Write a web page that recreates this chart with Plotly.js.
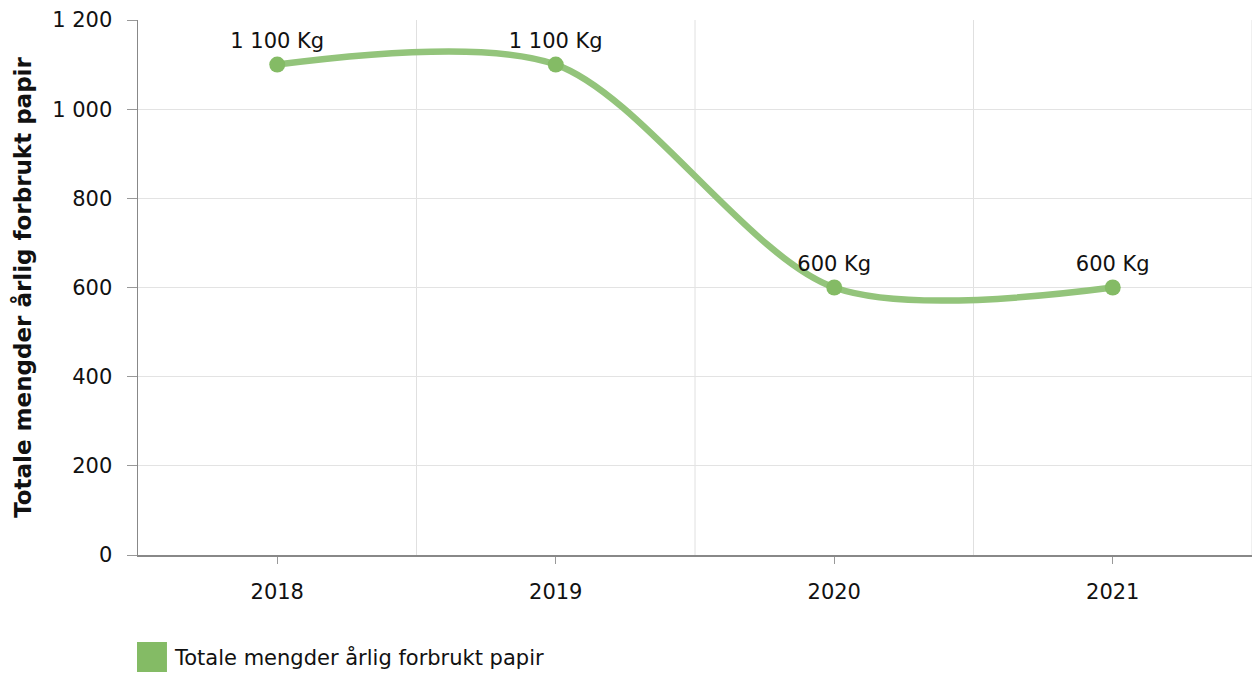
<!DOCTYPE html>
<html>
<head>
<meta charset="utf-8">
<script src="https://cdn.plot.ly/plotly-3.0.1.min.js"></script>
<style>html,body{margin:0;padding:0;background:#fff;}#chart{width:1255px;height:675px;}</style>
</head>
<body>
<div id="chart"></div>
<script>
const years = ['2018', '2019', '2020', '2021'];
const values = [1100, 1100, 600, 600];
const seriesName = 'Totale mengder årlig forbrukt papir';
const yTitle = 'Totale mengder årlig forbrukt papir';
const unit = 'Kg';

const FONT = 'DejaVu Sans, Verdana, sans-serif';
const FS = 21;

const trace = {
  x: years,
  y: values,
  type: 'scatter',
  mode: 'lines+markers+text',
  line: {shape: 'spline', smoothing: 0.85, color: '#93c47b', width: 6.5},
  marker: {size: 16, color: '#84bb65'},
  texttemplate: '%{y:,} ' + unit,
  textposition: 'top center',
  textfont: {family: FONT, size: FS, color: '#111'},
  name: seriesName,
  showlegend: false,
  cliponaxis: false,
  hoverinfo: 'x+y'
};

const layout = {
  width: 1255, height: 675,
  margin: {l: 138, r: 3, t: 20, b: 120},
  paper_bgcolor: '#fff', plot_bgcolor: '#fff',
  separators: ', ',
  font: {family: FONT, size: FS, color: '#111'},
  showlegend: false,
  xaxis: {
    type: 'category',
    range: [-0.5, 3.5],
    showgrid: false,
    showline: true, linecolor: '#888', linewidth: 1.5,
    ticks: 'outside', ticklen: 7, tickcolor: '#999', tickwidth: 1,
    ticklabelstandoff: 10,
    tickfont: {family: FONT, size: FS, color: '#111'},
    zeroline: false, fixedrange: true,
    mirror: false
  },
  yaxis: {
    range: [0, 1200],
    dtick: 200,
    separatethousands: true,
    tickformat: ',d',
    showgrid: true, gridcolor: '#e3e3e3', gridwidth: 1,
    showline: true, linecolor: '#888', linewidth: 1.5,
    ticks: 'outside', ticklen: 10, tickcolor: '#999',
    ticklabelstandoff: 10,
    tickfont: {family: FONT, size: FS, color: '#111'},
    zeroline: false,
    title: {text: yTitle, font: {family: FONT, size: 23, color: '#111', weight: 'bold'}, standoff: 14}
  },
  shapes: [
    ...[0.5, 1.5, 2.5, 3.5].map(v => ({type: 'line', xref: 'x', yref: 'paper', x0: v, x1: v, y0: 0, y1: 1, line: {color: '#e0e0e0', width: 1}, layer: 'below'})),
    {type: 'rect', xref: 'paper', yref: 'paper', x0: -0.0009, x1: 0.0260, y0: -0.2187, y1: -0.1626, fillcolor: '#84bb65', line: {width: 0}}
  ],
  annotations: [
    {xref: 'paper', yref: 'paper', x: 0.0305, y: -0.1907, xanchor: 'left', yanchor: 'middle', text: seriesName, showarrow: false, font: {family: FONT, size: FS, color: '#111'}}
  ]
};

Plotly.newPlot('chart', [trace], layout, {displayModeBar: false, staticPlot: true});
</script>
</body>
</html>
